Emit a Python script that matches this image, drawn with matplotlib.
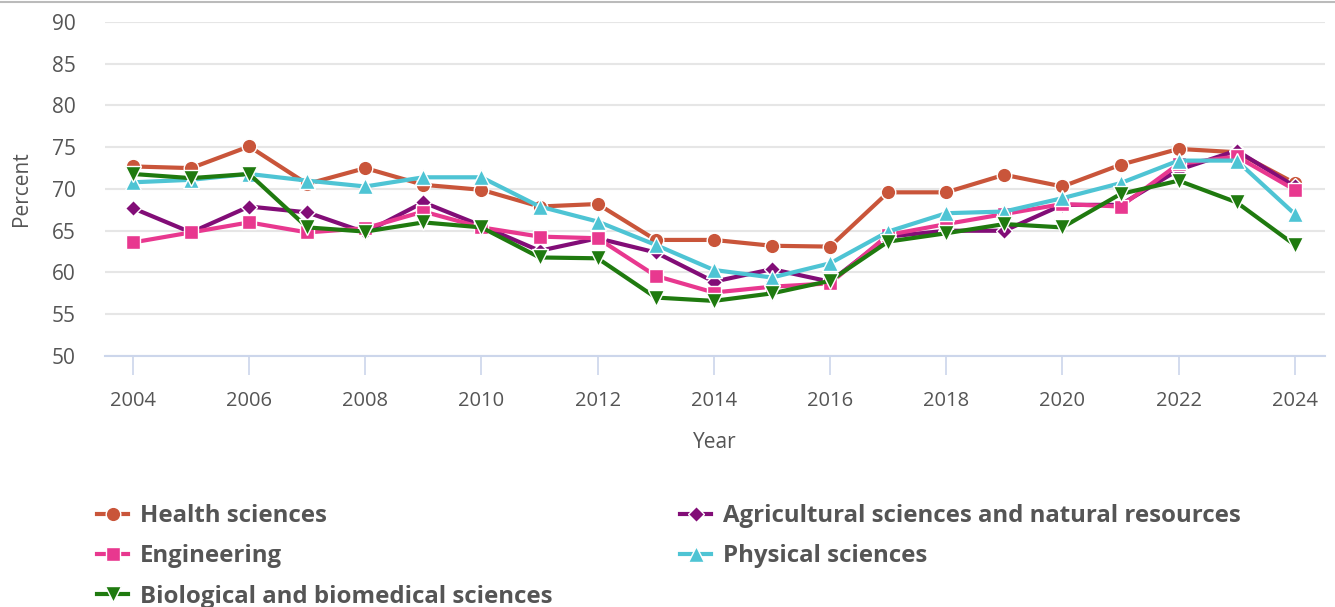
import matplotlib.pyplot as plt
from matplotlib.lines import Line2D

plt.rcParams['font.family'] = ['Open Sans', 'DejaVu Sans']

years = list(range(2004, 2025))

health = [72.7, 72.5, 75.1, 70.6, 72.5, 70.5, 69.9, 67.9, 68.2, 63.9, 63.9, 63.2, 63.1,
          69.6, 69.6, 71.7, 70.3, 72.9, 74.8, 74.4, 70.7]
agricultural = [67.7, 64.8, 67.9, 67.2, 64.8, 68.4, 65.6, 62.6, 64.1, 62.4, 58.9, 60.4, 58.9,
                64.3, 65.0, 65.0, 68.1, 68.1, 72.3, 74.6, 70.3]
engineering = [63.6, 64.8, 66.0, 64.8, 65.3, 67.3, 65.4, 64.3, 64.1, 59.6, 57.6, 58.3, 58.7,
               64.5, 65.8, 67.0, 68.2, 67.9, 73.0, 73.9, 69.9]
physical = [70.8, 71.1, 71.8, 71.0, 70.3, 71.4, 71.4, 67.9, 66.1, 63.3, 60.3, 59.4, 61.1,
            64.9, 67.1, 67.3, 68.9, 70.7, 73.4, 73.4, 67.0]
biological = [71.8, 71.3, 71.8, 65.4, 64.9, 66.0, 65.4, 61.8, 61.7, 57.0, 56.6, 57.5, 59.0,
              63.7, 64.7, 65.8, 65.4, 69.4, 71.0, 68.4, 63.3]

series = [
    ('Health sciences', health, '#c9553a', 'o', 10.5),
    ('Agricultural sciences and natural resources', agricultural, '#820d77', 'D', 8),
    ('Engineering', engineering, '#e8388f', 's', 10),
    ('Physical sciences', physical, '#4ec4d4', '^', 11),
    ('Biological and biomedical sciences', biological, '#1f7a0f', 'v', 11),
]

fig = plt.figure(figsize=(13.35, 6.07), dpi=100)
ax = fig.add_axes([0.0787, 0.4135, 0.9138, 0.5503])

handles = {}
for name, vals, color, mk, ms in series:
    h, = ax.plot(years, vals, color=color, lw=3, marker=mk, markersize=ms,
                 markeredgecolor='white', markeredgewidth=1, label=name)
    handles[name] = h

ax.set_xlim(2003.52, 2024.52)
ax.set_ylim(50, 90)
ax.set_yticks(range(50, 91, 5))
ax.set_xticks(range(2004, 2025, 2))
ax.grid(axis='y', color='#e6e6e6', lw=1.5)
ax.set_axisbelow(True)
for s in ['top', 'right', 'left']:
    ax.spines[s].set_visible(False)
ax.spines['bottom'].set_color('#ccd6eb')
ax.spines['bottom'].set_linewidth(1.5)
ax.tick_params(axis='x', colors='#ccd6eb', length=14, width=1.2, pad=11, labelcolor='#555555',
               labelsize=14.5)
ax.tick_params(axis='y', length=0, pad=21, labelcolor='#555555', labelsize=15)

ax.set_xlabel('Year', fontsize=15, color='#555555', labelpad=15)
ax.set_ylabel('Percent', fontsize=15, color='#555555', labelpad=14)

# thin border at the top of the figure
fig.add_artist(Line2D([0, 1], [0.9965, 0.9965], transform=fig.transFigure, color='#bbbbbb', lw=1.5))

order = ['Health sciences', 'Engineering', 'Biological and biomedical sciences',
         'Agricultural sciences and natural resources', 'Physical sciences']
leg = fig.legend([handles[n] for n in order], order, ncol=2, loc='upper left',
                 bbox_to_anchor=(0.0727, 0.1695), frameon=False, borderpad=0,
                 borderaxespad=0, handlelength=1.3, handletextpad=0.5,
                 columnspacing=5.3, labelspacing=0.68,
                 prop={'weight': 'bold', 'size': 17.3})
for t in leg.get_texts():
    t.set_color('#555555')

fig.savefig('out.png', dpi=100)
